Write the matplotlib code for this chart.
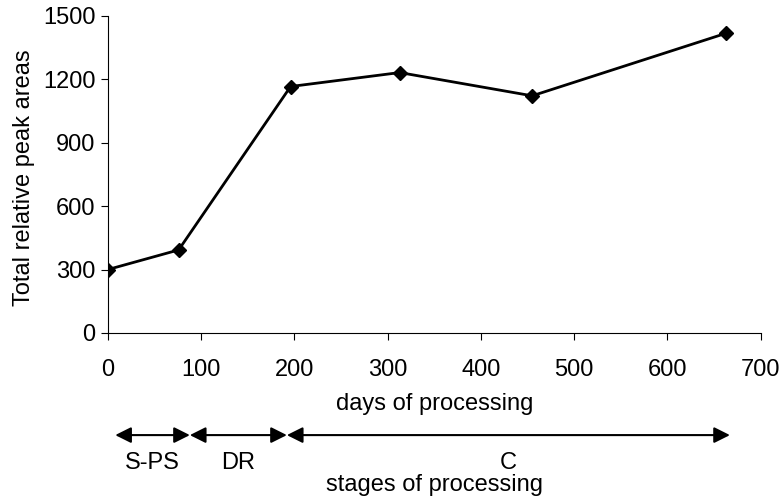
import matplotlib.pyplot as plt

plt.rcParams['font.family'] = ['Liberation Sans', 'DejaVu Sans']

days = [0, 76, 196, 313, 455, 663]
areas = [300, 393, 1166, 1232, 1122, 1418]

stages = ['S-PS', 'DR', 'C']
stage_start = [8, 88, 192]
stage_end = [88, 192, 667]

fs = 17

fig = plt.figure(figsize=(7.81, 4.97), dpi=100)
ax = fig.add_axes([0.138, 0.33, 0.836, 0.638])

ax.plot(days, areas, color='black', lw=2, marker='D', markersize=7)

ax.set_xlim(0, 700)
ax.set_ylim(0, 1500)
ax.set_xticks(range(0, 701, 100))
ax.set_yticks(range(0, 1501, 300))
ax.spines['top'].set_visible(False)
ax.spines['right'].set_visible(False)
ax.tick_params(labelsize=fs, direction='out', length=5)
ax.tick_params(axis='x', pad=14)
ax.tick_params(axis='y', pad=4)
ax.set_xlabel('days of processing', fontsize=fs)
ax.set_ylabel('Total relative peak areas', fontsize=fs)
ax.xaxis.set_label_coords(0.5, -0.19)
ax.yaxis.set_label_coords(-0.112, 0.49)

# stage arrows below the axis
trans = ax.get_xaxis_transform()
for name, a, b in zip(stages, stage_start, stage_end):
    ax.annotate('', xy=(a, -0.322), xytext=(b, -0.322), xycoords=trans,
                textcoords=trans, annotation_clip=False,
                arrowprops=dict(arrowstyle='<|-|>', color='black', lw=1.5,
                                mutation_scale=24, shrinkA=0, shrinkB=0))
    ax.text((a + b) / 2, -0.41, name, transform=trans, ha='center',
            va='center', fontsize=fs)
ax.text(0.5, -0.48, 'stages of processing', transform=ax.transAxes,
        ha='center', va='center', fontsize=fs)

fig.savefig('out.png', dpi=100)
